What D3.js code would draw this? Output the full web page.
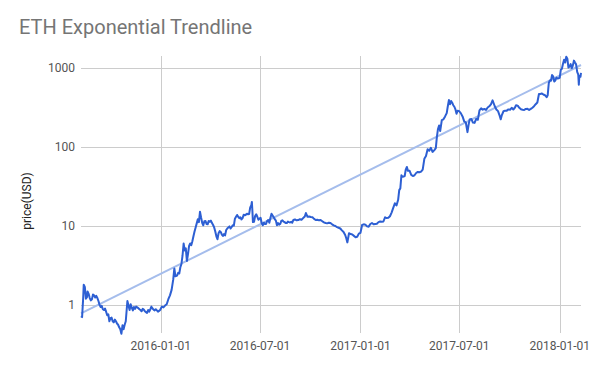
<!DOCTYPE html>
<html>
<head>
  <title>ETH Exponential Trendline</title>
  <script type="text/javascript" src="https://d3js.org/d3.v7.min.js"></script>
  <style>
    body { margin: 0; background: #fff; }
    text { font-family: Roboto, "Noto Sans", sans-serif; }
  </style>
</head>
<body>
  <div id="container"></div>
  <script type="text/javascript">
    // ETH close price (USD)
    var dates = [
      '2015-08-08','2015-08-10','2015-08-12','2015-08-13','2015-08-15','2015-08-17','2015-08-19','2015-08-20',
      '2015-08-22','2015-08-24','2015-08-26','2015-08-28','2015-08-30','2015-09-01','2015-09-03','2015-09-05',
      '2015-09-07','2015-09-09','2015-09-11','2015-09-13','2015-09-15','2015-09-17','2015-09-19','2015-09-21',
      '2015-09-23','2015-09-25','2015-09-27','2015-09-29','2015-10-01','2015-10-03','2015-10-05','2015-10-07',
      '2015-10-09','2015-10-11','2015-10-13','2015-10-15','2015-10-17','2015-10-19','2015-10-21','2015-10-23',
      '2015-10-25','2015-10-27','2015-10-29','2015-11-01','2015-11-03','2015-11-05','2015-11-07','2015-11-09',
      '2015-11-11','2015-11-13','2015-11-15','2015-11-17','2015-11-19','2015-11-21','2015-11-23','2015-11-25',
      '2015-11-27','2015-11-29','2015-12-01','2015-12-03','2015-12-05','2015-12-07','2015-12-09','2015-12-11',
      '2015-12-13','2015-12-15','2015-12-17','2015-12-19','2015-12-21','2015-12-23','2015-12-25','2015-12-27',
      '2015-12-29','2015-12-31','2016-01-03','2016-01-06','2016-01-09','2016-01-12','2016-01-15','2016-01-18',
      '2016-01-21','2016-01-24','2016-01-26','2016-01-28','2016-01-31','2016-02-02','2016-02-04','2016-02-06',
      '2016-02-08','2016-02-10','2016-02-12','2016-02-14','2016-02-16','2016-02-18','2016-02-20','2016-02-22',
      '2016-02-24','2016-02-26','2016-02-28','2016-03-01','2016-03-03','2016-03-05','2016-03-07','2016-03-09',
      '2016-03-11','2016-03-13','2016-03-15','2016-03-17','2016-03-19','2016-03-21','2016-03-23','2016-03-25',
      '2016-03-27','2016-03-29','2016-03-31','2016-04-02','2016-04-04','2016-04-06','2016-04-08','2016-04-10',
      '2016-04-12','2016-04-14','2016-04-16','2016-04-18','2016-04-20','2016-04-22','2016-04-24','2016-04-26',
      '2016-04-28','2016-04-30','2016-05-02','2016-05-04','2016-05-06','2016-05-08','2016-05-10','2016-05-12',
      '2016-05-14','2016-05-16','2016-05-18','2016-05-20','2016-05-22','2016-05-24','2016-05-26','2016-05-28',
      '2016-05-30','2016-06-01','2016-06-03','2016-06-05','2016-06-07','2016-06-09','2016-06-11','2016-06-13',
      '2016-06-15','2016-06-16','2016-06-17','2016-06-18','2016-06-20','2016-06-22','2016-06-24','2016-06-26',
      '2016-06-28','2016-06-30','2016-07-02','2016-07-04','2016-07-06','2016-07-08','2016-07-10','2016-07-12',
      '2016-07-14','2016-07-16','2016-07-18','2016-07-20','2016-07-22','2016-07-24','2016-07-26','2016-07-28',
      '2016-07-30','2016-08-01','2016-08-03','2016-08-05','2016-08-07','2016-08-09','2016-08-11','2016-08-13',
      '2016-08-15','2016-08-17','2016-08-19','2016-08-21','2016-08-23','2016-08-25','2016-08-27','2016-08-29',
      '2016-08-31','2016-09-03','2016-09-06','2016-09-09','2016-09-12','2016-09-15','2016-09-18','2016-09-21',
      '2016-09-23','2016-09-26','2016-09-29','2016-10-02','2016-10-05','2016-10-08','2016-10-11','2016-10-14',
      '2016-10-17','2016-10-20','2016-10-23','2016-10-26','2016-10-29','2016-11-01','2016-11-04','2016-11-07',
      '2016-11-10','2016-11-13','2016-11-16','2016-11-19','2016-11-22','2016-11-25','2016-11-28','2016-12-01',
      '2016-12-04','2016-12-06','2016-12-08','2016-12-11','2016-12-14','2016-12-17','2016-12-20','2016-12-23',
      '2016-12-26','2016-12-29','2017-01-01','2017-01-04','2017-01-07','2017-01-10','2017-01-13','2017-01-16',
      '2017-01-19','2017-01-22','2017-01-25','2017-01-28','2017-01-31','2017-02-03','2017-02-06','2017-02-09',
      '2017-02-12','2017-02-15','2017-02-18','2017-02-21','2017-02-24','2017-02-27','2017-03-02','2017-03-05',
      '2017-03-08','2017-03-11','2017-03-13','2017-03-15','2017-03-17','2017-03-19','2017-03-21','2017-03-23',
      '2017-03-25','2017-03-27','2017-03-29','2017-04-01','2017-04-04','2017-04-07','2017-04-10','2017-04-13',
      '2017-04-16','2017-04-19','2017-04-22','2017-04-25','2017-04-28','2017-05-01','2017-05-04','2017-05-07',
      '2017-05-10','2017-05-13','2017-05-16','2017-05-19','2017-05-21','2017-05-23','2017-05-25','2017-05-27',
      '2017-05-30','2017-06-02','2017-06-05','2017-06-08','2017-06-10','2017-06-12','2017-06-14','2017-06-16',
      '2017-06-18','2017-06-20','2017-06-22','2017-06-24','2017-06-26','2017-06-28','2017-07-01','2017-07-04',
      '2017-07-07','2017-07-10','2017-07-13','2017-07-16','2017-07-18','2017-07-20','2017-07-23','2017-07-26',
      '2017-07-29','2017-08-01','2017-08-04','2017-08-07','2017-08-10','2017-08-13','2017-08-16','2017-08-19',
      '2017-08-22','2017-08-25','2017-08-28','2017-08-31','2017-09-02','2017-09-04','2017-09-07','2017-09-10',
      '2017-09-13','2017-09-15','2017-09-17','2017-09-20','2017-09-23','2017-09-26','2017-09-29','2017-10-02',
      '2017-10-05','2017-10-08','2017-10-11','2017-10-13','2017-10-16','2017-10-19','2017-10-22','2017-10-25',
      '2017-10-28','2017-10-31','2017-11-03','2017-11-06','2017-11-09','2017-11-12','2017-11-15','2017-11-18',
      '2017-11-21','2017-11-24','2017-11-26','2017-11-29','2017-12-02','2017-12-05','2017-12-08','2017-12-10',
      '2017-12-12','2017-12-14','2017-12-16','2017-12-18','2017-12-20','2017-12-22','2017-12-24','2017-12-26',
      '2017-12-28','2017-12-30','2018-01-01','2018-01-03','2018-01-05','2018-01-07','2018-01-09','2018-01-11',
      '2018-01-13','2018-01-15','2018-01-17','2018-01-19','2018-01-21','2018-01-23','2018-01-25','2018-01-27',
      '2018-01-29','2018-01-31','2018-02-02','2018-02-04','2018-02-05','2018-02-06','2018-02-08','2018-02-09'
    ];
    var prices = [
      0.72,0.70,1.22,1.80,1.69,1.20,1.25,1.48,
      1.38,1.22,1.14,1.18,1.35,1.32,1.24,1.30,
      1.22,1.12,1.00,0.94,0.97,0.88,0.86,0.90,
      0.82,0.74,0.76,0.62,0.68,0.69,0.62,0.60,
      0.65,0.62,0.58,0.56,0.52,0.49,0.43,0.55,
      0.49,0.56,0.62,1.12,0.98,0.86,1.02,0.92,
      0.85,0.94,0.89,0.95,0.93,0.91,0.88,0.86,
      0.83,0.89,0.87,0.83,0.81,0.79,0.86,0.82,
      0.88,0.95,0.90,0.87,0.85,0.88,0.85,0.82,
      0.84,0.86,0.95,0.93,0.98,1.02,1.18,1.32,
      1.55,2.10,2.90,2.30,2.35,2.55,2.50,3.00,
      3.30,4.20,6.00,4.90,5.20,3.60,4.40,5.60,
      6.00,5.70,6.40,7.40,8.50,9.60,10.8,12.2,
      11.2,15.2,12.8,11.0,10.2,11.5,11.6,10.6,
      10.5,11.6,11.3,11.7,10.9,10.3,9.60,8.50,
      7.40,6.80,8.10,8.60,8.40,7.80,7.50,7.90,
      7.60,8.90,9.30,9.60,9.90,9.30,9.70,10.2,
      10.1,12.4,13.1,13.8,13.1,12.6,12.9,12.1,
      12.6,13.9,13.7,13.9,14.3,14.1,14.2,17.2,
      18.3,20.2,15.5,11.2,11.3,13.4,14.1,13.1,
      12.0,12.4,12.7,10.9,10.2,11.0,10.6,10.6,
      11.6,11.9,11.0,12.6,14.3,13.6,12.9,12.2,
      11.7,10.2,10.9,10.4,10.6,11.6,11.8,11.4,
      11.2,10.9,10.9,11.4,11.2,11.1,11.3,11.0,
      11.9,12.1,11.8,11.9,12.2,12.0,12.6,13.2,
      14.6,13.1,13.2,13.0,12.9,12.3,11.9,12.0,
      11.8,11.9,11.5,11.1,10.9,10.8,11.0,10.9,
      10.5,10.2,10.0,9.70,9.50,9.30,8.80,8.40,
      7.70,7.00,6.20,8.10,7.90,7.80,7.50,7.20,
      7.30,8.00,8.20,10.3,10.5,10.4,9.90,9.80,
      10.6,10.9,10.5,10.6,10.7,11.2,11.4,11.3,
      11.4,12.9,12.6,12.7,13.3,14.8,17.0,19.4,
      18.2,21.5,28.5,30.0,44.0,42.0,42.5,43.0,
      52.0,56.0,50.0,50.0,44.5,43.0,44.0,47.0,
      48.5,48.0,49.0,52.0,71.0,77.0,94.0,90.0,
      98.0,87.0,91.0,97.0,135,170,188,160,
      220,225,245,270,330,395,350,385,
      365,340,325,300,265,290,285,268,
      245,212,205,155,190,225,228,205,
      203,228,222,292,310,298,305,296,
      318,330,348,392,360,330,300,286,
      250,225,255,285,290,290,301,298,
      315,300,318,340,336,315,302,298,
      296,305,306,296,305,316,330,350,
      368,472,470,480,465,455,430,456,
      650,700,695,820,790,680,700,760,
      740,745,760,955,985,1140,1280,1180,
      1400,1320,1020,1050,1130,1000,1080,1250,
      1180,1120,900,830,620,800,780,875
    ];

    // fitted exponential trendline, value at first and last date
    var trendValues = [0.78, 1100];
    var yTicks = [1, 10, 100, 1000];
    var xTicks = ['2016-01-01', '2016-07-01', '2017-01-01', '2017-07-01', '2018-01-01'];

    var width = 600, height = 371,
      margin = {top: 56, right: 19, bottom: 38, left: 81};

    var parse = d3.timeParse('%Y-%m-%d');
    var data = dates.map((d, i) => ({date: parse(d), price: prices[i]}));

    var svg = d3.select('#container').append('svg')
      .attr('width', width)
      .attr('height', height);

    var x = d3.scaleUtc()
      .domain(d3.extent(data, d => d.date))
      .range([margin.left, width - margin.right]);

    var y = d3.scaleLog()
      .domain([0.44, 1430])
      .range([height - margin.bottom, margin.top]);

    // gridlines
    svg.append('g')
      .selectAll('line')
      .data(xTicks.map(parse))
      .join('line')
      .attr('x1', d => Math.round(x(d)) + 0.5)
      .attr('x2', d => Math.round(x(d)) + 0.5)
      .attr('y1', margin.top)
      .attr('y2', height - margin.bottom)
      .attr('stroke', '#cccccc');

    svg.append('g')
      .selectAll('line')
      .data(yTicks)
      .join('line')
      .attr('x1', margin.left)
      .attr('x2', width - margin.right)
      .attr('y1', d => Math.round(y(d)) + 0.5)
      .attr('y2', d => Math.round(y(d)) + 0.5)
      .attr('stroke', '#cccccc');

    // axis labels
    svg.append('g')
      .selectAll('text')
      .data(yTicks)
      .join('text')
      .attr('x', margin.left - 6)
      .attr('y', d => y(d))
      .attr('dy', '0.35em')
      .attr('text-anchor', 'end')
      .attr('font-size', 12)
      .attr('fill', '#555')
      .text(d => d3.format('d')(d));

    svg.append('g')
      .selectAll('text')
      .data(xTicks)
      .join('text')
      .attr('x', d => x(parse(d)))
      .attr('y', 350)
      .attr('text-anchor', 'middle')
      .attr('font-size', 12)
      .attr('fill', '#555')
      .text(d => d);

    svg.append('text')
      .attr('transform', 'translate(30.5,201) rotate(-90)')
      .attr('text-anchor', 'middle')
      .attr('font-size', 12)
      .attr('fill', '#222')
      .text('price(USD)');

    svg.append('text')
      .attr('x', 19)
      .attr('y', 34)
      .attr('font-size', 20)
      .attr('fill', '#757575')
      .text('ETH Exponential Trendline');

    // trendline
    var ends = d3.extent(data, d => d.date);
    svg.append('path')
      .datum(ends.map((d, i) => ({date: d, price: trendValues[i]})))
      .attr('fill', 'none')
      .attr('stroke', '#a5bdec')
      .attr('stroke-width', 2)
      .attr('d', d3.line().x(d => x(d.date)).y(d => y(d.price)));

    // price line
    svg.append('path')
      .datum(data)
      .attr('fill', 'none')
      .attr('stroke', '#2d5fd3')
      .attr('stroke-width', 2)
      .attr('stroke-linejoin', 'round')
      .attr('d', d3.line().x(d => x(d.date)).y(d => y(d.price)));
  </script>
</body>
</html>
